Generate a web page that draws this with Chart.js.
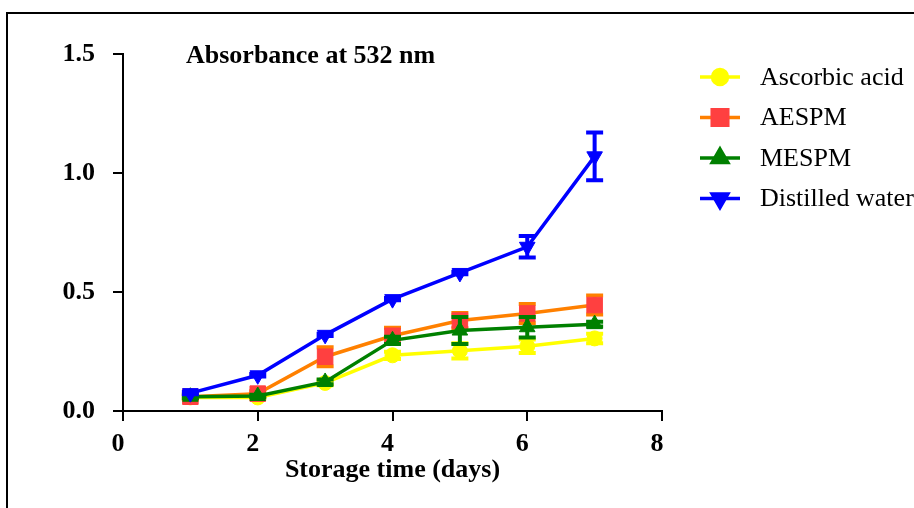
<!DOCTYPE html>
<html>
<head>
<meta charset="utf-8">
<script src="https://cdn.jsdelivr.net/npm/chart.js@4.4.1/dist/chart.umd.min.js"></script>
<style>
  html, body { margin: 0; padding: 0; background: #fff; overflow: hidden; }
  #wrap { position: relative; width: 914px; height: 508px; }
  #frame { position: absolute; left: 6px; top: 12px; width: 1000px; height: 600px;
           border-left: 2px solid #000; border-top: 2px solid #000; }
  canvas { position: absolute; left: 0; top: 0; }
</style>
</head>
<body>
<div id="wrap">
  <div id="frame"></div>
  <canvas id="chart" width="914" height="508"></canvas>
</div>
<script>
// storage days
const days = [1, 2, 3, 4, 5, 6, 7];

// absorbance at 532 nm
const ascorbic = [0.057, 0.057, 0.118, 0.234, 0.253, 0.272, 0.305];
const aespm    = [0.060, 0.073, 0.228, 0.316, 0.380, 0.410, 0.445];
const mespm    = [0.060, 0.063, 0.122, 0.297, 0.338, 0.352, 0.365];
const water    = [0.075, 0.150, 0.320, 0.470, 0.580, 0.690, 1.070];

// error bars (+/-)
const ascorbicErr = [0.005, 0.005, 0.01, 0.015, 0.032, 0.028, 0.02];
const aespmErr    = [0.01, 0.01, 0.04, 0.034, 0.032, 0.04, 0.04];
const mespmErr    = [0.005, 0.005, 0.01, 0.015, 0.057, 0.043, 0.01];
const waterErr    = [0.005, 0.005, 0.005, 0.005, 0.005, 0.045, 0.10];

const xTicks = [0, 2, 4, 6, 8];
const yTicks = [0, 0.5, 1.0, 1.5];

const seriesNames = ["Ascorbic acid", "AESPM", "MESPM", "Distilled water"];

const serif = "'Liberation Serif', 'Times New Roman', serif";

function pts(vals) {
    return days.map((d, i) => ({ x: d, y: vals[i] }));
}

// draw error bars under each dataset's own line/markers
const errorBars = {
    id: 'errorBars',
    beforeDatasetDraw(chart, args) {
        const ds = chart.data.datasets[args.index];
        if (!ds.err) return;
        const ctx = chart.ctx;
        const xs = chart.scales.x, ys = chart.scales.y;
        ctx.save();
        ctx.strokeStyle = ds.errColor;
        ctx.lineWidth = 4;
        ds.data.forEach((p, i) => {
            const px = xs.getPixelForValue(p.x);
            const top = ys.getPixelForValue(p.y + ds.err[i]);
            const bot = ys.getPixelForValue(p.y - ds.err[i]);
            ctx.beginPath();
            ctx.moveTo(px, top); ctx.lineTo(px, bot);
            ctx.moveTo(px - 8.5, top); ctx.lineTo(px + 8.5, top);
            ctx.moveTo(px - 8.5, bot); ctx.lineTo(px + 8.5, bot);
            ctx.stroke();
        });
        ctx.restore();
    }
};

// title inside the plot + legend on the right
const extras = {
    id: 'extras',
    afterDraw(chart) {
        const ctx = chart.ctx;
        ctx.save();
        ctx.fillStyle = '#000';
        ctx.font = "bold 26px " + serif;
        ctx.textBaseline = 'middle';
        ctx.textAlign = 'left';
        ctx.fillText("Absorbance at 532 nm", 186, 56);

        chart.data.datasets.forEach((ds, row) => {
            const y = 77 + row * 40.5;
            ctx.strokeStyle = ds.borderColor;
            ctx.lineWidth = 3.5;
            ctx.beginPath();
            ctx.moveTo(700, y); ctx.lineTo(740, y);
            ctx.stroke();
            ctx.fillStyle = ds.pointBackgroundColor;
            ctx.strokeStyle = ds.pointBorderColor;
            Chart.helpers.drawPoint(ctx, {
                pointStyle: ds.pointStyle,
                rotation: ds.pointRotation || 0,
                radius: ds.pointRadius,
                borderWidth: 1
            }, 720, y);
            ctx.fillStyle = '#000';
            ctx.font = "26px " + serif;
            ctx.fillText(seriesNames[row], 760, y + 1);
        });
        ctx.restore();
    }
};

const datasets = [
    {
        label: seriesNames[0], data: pts(ascorbic), err: ascorbicErr, errColor: '#FFFF00',
        borderColor: '#FFFF00', backgroundColor: '#FFFF00',
        pointBackgroundColor: '#FFFF00', pointBorderColor: '#FFFF00',
        pointStyle: 'circle', pointRadius: 7.5, order: 4
    },
    {
        label: seriesNames[1], data: pts(aespm), err: aespmErr, errColor: '#FF8000',
        borderColor: '#FF8000', backgroundColor: '#FF4040',
        pointBackgroundColor: '#FF4040', pointBorderColor: '#FF4040',
        pointStyle: 'rect', pointRadius: 11, order: 3
    },
    {
        label: seriesNames[2], data: pts(mespm), err: mespmErr, errColor: '#008000',
        borderColor: '#008000', backgroundColor: '#008000',
        pointBackgroundColor: '#008000', pointBorderColor: '#008000',
        pointStyle: 'triangle', pointRadius: 9, order: 2
    },
    {
        label: seriesNames[3], data: pts(water), err: waterErr, errColor: '#0000FF',
        borderColor: '#0000FF', backgroundColor: '#0000FF',
        pointBackgroundColor: '#0000FF', pointBorderColor: '#0000FF',
        pointStyle: 'triangle', pointRotation: 180, pointRadius: 9, order: 1
    }
];
datasets.forEach(d => { d.borderWidth = 3.5; d.tension = 0; d.pointBorderWidth = 1; });

new Chart(document.getElementById('chart'), {
    type: 'line',
    data: { datasets },
    options: {
        responsive: false,
        animation: false,
        devicePixelRatio: 1,
        layout: { padding: { left: 0, right: 252, top: 54, bottom: 22 } },
        plugins: { legend: { display: false }, tooltip: { enabled: false } },
        scales: {
            x: {
                type: 'linear', min: 0, max: 8,
                afterBuildTicks(scale) { scale.ticks = xTicks.map(v => ({ value: v })); },
                afterFit(scale) { scale.height = 75; },
                grid: { drawOnChartArea: false, drawTicks: true, tickLength: 10, color: '#000', lineWidth: 2 },
                border: { display: true, color: '#000', width: 2 },
                ticks: { color: '#000', padding: 8, labelOffset: -5, font: { family: serif, size: 26, weight: 'bold' } },
                title: {
                    display: true, text: 'Storage time (days)', color: '#000', padding: { top: 0, bottom: 0 },
                    font: { family: serif, size: 26, weight: 'bold' }
                }
            },
            y: {
                type: 'linear', min: 0, max: 1.5,
                afterBuildTicks(scale) { scale.ticks = yTicks.map(v => ({ value: v })); },
                afterFit(scale) { scale.width = 123; },
                grid: { drawOnChartArea: false, drawTicks: true, tickLength: 10, color: '#000', lineWidth: 2 },
                border: { display: true, color: '#000', width: 2 },
                ticks: {
                    color: '#000', padding: 18,
                    font: { family: serif, size: 26, weight: 'bold' },
                    callback: v => v.toFixed(1)
                }
            }
        }
    },
    plugins: [errorBars, extras]
});
</script>
</body>
</html>
